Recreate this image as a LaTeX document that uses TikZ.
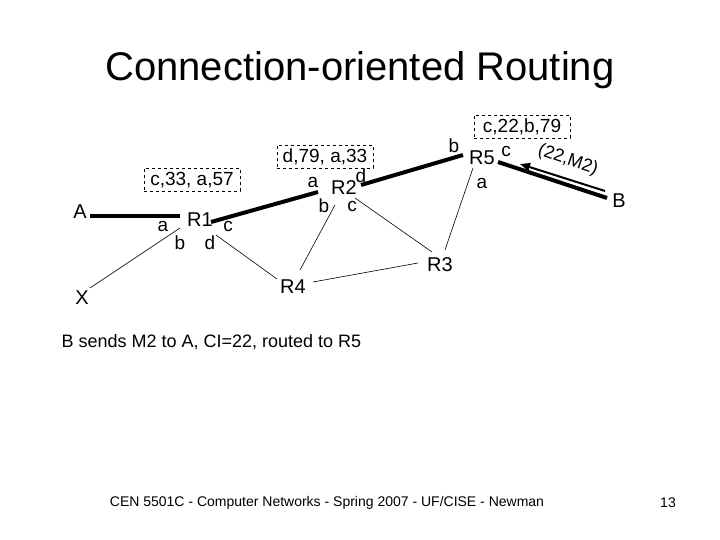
\documentclass[tikz,border=0pt]{standalone}
\usepackage{fontspec}
\setmainfont{Liberation Sans}
\usetikzlibrary{arrows.meta}
\begin{document}
\begin{tikzpicture}[x=1pt,y=-1pt,
  lbl/.style={font=\fontsize{20}{22}\selectfont,inner sep=0pt},
  prt/.style={font=\fontsize{19}{21}\selectfont,inner sep=0pt},
  box/.style={draw,dashed,font=\fontsize{19}{21}\selectfont,minimum width=96pt,minimum height=23pt,inner sep=0pt},
  thick line/.style={line width=4pt},
  thin line/.style={line width=0.6pt}]
\useasboundingbox (0,0) rectangle (720,540);
\node[font=\fontsize{40}{44}\selectfont] (title) at (360,70) {Connection-oriented Routing};
\node[lbl] (A) at (80,212) {A};
\node[lbl] (X) at (82,298) {X};
\node[lbl] (R1) at (200,220) {R1};
\node[lbl] (R2) at (344,188) {R2};
\node[lbl] (R5) at (482,158) {R5};
\node[lbl] (R4) at (293,287) {R4};
\node[lbl] (R3) at (440,265) {R3};
\node[lbl] (B) at (619,201) {B};
\node[box] (b1) at (192,180) {c,33, a,57};
\node[box] (b2) at (325,157) {d,79, a,33};
\node[box] (b3) at (522,127) {c,22,b,79};
\node[prt] (p1a) at (163,226) {a};
\node[prt] (p1b) at (180,243) {b};
\node[prt] (p1d) at (210,243) {d};
\node[prt] (p1c) at (228,226) {c};
\node[prt] (p2a) at (313,182) {a};
\node[prt] (p2d) at (361,176) {d};
\node[prt] (p2b) at (324,206) {b};
\node[prt] (p2c) at (352,206) {c};
\node[prt] (p5b) at (454,146) {b};
\node[prt] (p5c) at (506,151) {c};
\node[prt] (p5a) at (482,183) {a};
\coordinate (a1) at (90,216); \coordinate (a2) at (180,216);
\draw[thick line] (a1) -- (a2);
\coordinate (c1) at (211,222); \coordinate (c2) at (318,192);
\draw[thick line] (c1) -- (c2);
\coordinate (d1) at (361,185); \coordinate (d2) at (463,155);
\draw[thick line] (d1) -- (d2);
\coordinate (e1) at (498,162); \coordinate (e2) at (607,198);
\draw[thick line] (e1) -- (e2);
\coordinate (f1) at (520,164); \coordinate (f2) at (605,191);
\draw[line width=2pt,-{Triangle[length=10pt,width=8pt]}] (f2) -- (f1);
\node[font=\fontsize{18}{20}\selectfont,rotate=-19,inner sep=0pt] (msg) at (568,160) {(22,M2)};
\draw[thin line] (90,288) coordinate (x1) -- (180,228);
\draw[thin line] (216,235) -- (277,279);
\draw[thin line] (335,205) -- (300,270);
\draw[thin line] (355,198) -- (432,252);
\draw[thin line] (313,282) -- (418,263);
\draw[thin line] (445,250) -- (473,168);
\node[font=\fontsize{18}{20}\selectfont,anchor=west] (txt) at (58,342) {B sends M2 to A, CI=22, routed to R5};
\node[font=\fontsize{14}{16}\selectfont] (foot) at (327,503) {CEN 5501C - Computer Networks - Spring 2007 - UF/CISE - Newman};
\node[font=\fontsize{14}{16}\selectfont] (pg) at (668,503) {13};
\end{tikzpicture}
\end{document}
